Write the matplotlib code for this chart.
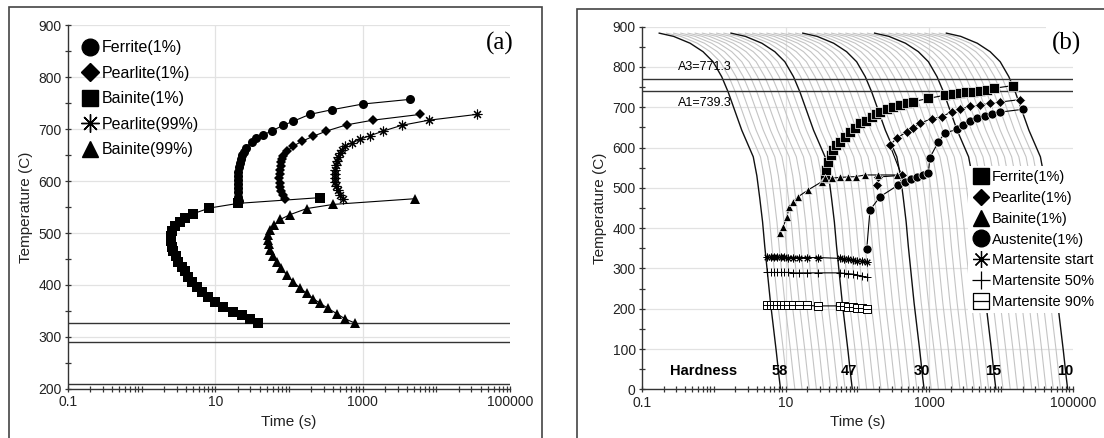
"""
Two-panel CCT style chart: (a) isothermal start/finish curves, (b) continuous
cooling curves with transformation points and hardness labels.
"""

import matplotlib
import matplotlib.pyplot as plt
import numpy as np
from matplotlib.lines import Line2D
from matplotlib.patches import Rectangle
from matplotlib.path import Path
from matplotlib.ticker import (FixedFormatter, FixedLocator, LogLocator,
                               MultipleLocator, NullFormatter)

matplotlib.use("Agg")
plt.rcParams["font.family"] = ["Liberation Sans", "DejaVu Sans"]

TIME_TICKS = [0.1, 10, 1000, 100000]
TIME_TICK_LABELS = ["0.1", "10", "1000", "100000"]
GRID_TIMES = [10, 1000]

# ---------------- panel (a) ----------------
FERRITE_A_T = [562, 570, 578, 586, 594, 602, 610, 618, 626, 634, 642, 650, 656,
               664, 675, 683, 689, 696, 707, 715, 728, 737, 748, 757]
FERRITE_A_t = [21.0, 20.6, 20.4, 20.3, 20.2, 20.2, 20.3, 20.5, 20.8, 21.3, 22.0,
               23.2, 24.3, 26, 31, 36, 45, 58, 83, 115, 190, 380, 1000, 4400]

PEARLITE_A_T = [565, 573, 581, 589, 597, 605, 613, 621, 629, 637, 643, 648, 657,
                667, 676, 686, 696, 708, 717, 728]
PEARLITE_A_t = [88, 83, 79, 76, 74.5, 74, 74.5, 75.5, 77, 79, 81, 84, 93, 114,
                148, 213, 322, 605, 1380, 6000]

BAINITE_A_T = [568, 557, 548, 537, 529, 521, 513, 503, 494, 484, 474, 465, 455,
               445, 435, 426, 416, 406, 397, 387, 377, 368, 358, 348, 342, 334, 327]
BAINITE_A_t = [263, 20.4, 8.3, 5.0, 3.87, 3.31, 2.83, 2.55, 2.47, 2.47, 2.55, 2.68,
               2.89, 3.14, 3.49, 3.87, 4.29, 4.86, 5.57, 6.52, 8.0, 9.9, 12.8,
               17.5, 22.7, 29.5, 38]

PEARLITE99_A_T = [566, 574, 582, 590, 598, 606, 614, 622, 630, 638, 646, 654, 660,
                  667, 673, 680, 687, 696, 707, 717, 728]
PEARLITE99_A_t = [543, 500, 465, 440, 425, 420, 420, 425, 435, 445, 460, 490, 530,
                  573, 708, 916, 1250, 1900, 3370, 7980, 35100]

BAINITE99_A_T = [566, 555, 547, 535, 526, 516, 506, 497, 487, 478, 468, 455, 445,
                 432, 419, 406, 394, 384, 374, 365, 355, 345, 335, 327]
BAINITE99_A_t = [5200, 400, 174, 102, 76, 63, 56, 52, 52, 53, 55, 61, 68, 79, 93,
                 114, 142, 174, 213, 263, 339, 443, 575, 780]

MARTENSITE_LINES_A = [327, 290, 210]

# ---------------- panel (b) ----------------
FERRITE_B_t = [35, 37, 39, 42.5, 46, 51, 57, 67, 79, 93, 109, 132, 160, 180, 207,
               256, 316, 392, 486, 603, 977, 1660, 2170, 2690, 3310, 4110, 5100,
               6300, 7900, 14800]
FERRITE_B_T = [524, 544, 565, 581, 594, 606, 614, 627, 639, 648, 660, 667, 676,
               683, 689, 695, 700, 705, 710, 714, 722, 730, 733, 735, 737, 739,
               741, 744, 747, 754]

PEARLITE_B_t = [186, 195, 414, 284, 352, 486, 601, 745, 1084, 1493, 2056, 2685,
                3700, 5100, 7030, 9680, 18400]
PEARLITE_B_T = [508, 527, 531, 606, 623, 639, 648, 660, 672, 676, 689, 695, 702,
                706, 710, 713, 719]

BAINITE_B_t = [8.36, 9.3, 10.4, 11.3, 12.8, 15.0, 20.7, 31.8, 35.4, 44, 57, 74,
               96, 128, 195, 352]
BAINITE_B_T = [389, 404, 428, 453, 466, 478, 495, 515, 524, 524, 526, 527, 528,
               532, 532, 532]

AUSTENITE_B_t = [135, 150, 207, 371, 460, 558, 676, 820, 973, 1026, 1340, 1660,
                 2415, 2950, 3700, 4630, 5990, 7500, 9680, 20400]
AUSTENITE_B_T = [347, 445, 478, 507, 514, 521, 527, 532, 536, 575, 614, 636, 645,
                 656, 666, 673, 678, 683, 688, 695]

MART_t = [5.46, 6.2, 6.9, 7.66, 8.55, 9.5, 10.9, 12.8, 15.5, 19.7, 28.5, 57.3, 65,
          74.7, 86, 97.8, 115, 135]
MART_START_T = [328, 328, 328, 328, 328, 328, 327, 327, 327, 327, 327, 325, 323,
                323, 321, 319, 318, 317]
MART_50_T = [290, 290, 290, 290, 290, 290, 290, 289, 289, 289, 289, 289, 288, 287,
             286, 284, 281, 278]
MART_90_T = [208, 208, 208, 208, 208, 208, 208, 208, 208, 208, 207, 207, 206, 205,
             204, 203, 202, 200]

# cooling curve shape (decades after curve start, temperature)
COOL_DT = [0.00, 0.20, 0.43, 0.61, 0.75, 0.87, 0.96, 1.05, 1.15, 1.31, 1.36, 1.40,
           1.44, 1.47, 1.51, 1.55, 1.59, 1.63, 1.67, 1.70]
COOL_T = [884, 876, 859, 838, 813, 776, 738, 693, 643, 577, 530, 475, 415, 355,
          285, 215, 155, 95, 30, -15]
BLACK_STARTS = [-0.76, 0.24, 1.24, 2.24, 3.24]
GRAY_STEPS = [0.1, 0.2, 0.3, 0.4, 0.5, 0.6, 0.7, 0.8, 0.9]

A3, A1 = 771.3, 739.3
HARDNESS_LABELS = ["58", "47", "30", "15", "10"]
HARDNESS_t = [8.2, 77, 800, 7800, 78000]

BOXMINUS = Path(
    [(-1, -1), (1, -1), (1, 1), (-1, 1), (-1, -1), (-1, 0), (1, 0)],
    [Path.MOVETO, Path.LINETO, Path.LINETO, Path.LINETO, Path.CLOSEPOLY,
     Path.MOVETO, Path.LINETO],
)
ASTERISK = (8, 2, 0)


def style_axes(ax, ymin, ymax):
    ax.set_xscale("log")
    ax.set_xlim(0.1, 1e5)
    ax.set_ylim(ymin, ymax)
    ax.xaxis.set_major_locator(FixedLocator(TIME_TICKS))
    ax.xaxis.set_major_formatter(FixedFormatter(TIME_TICK_LABELS))
    ax.xaxis.set_minor_locator(LogLocator(base=10, subs=np.arange(1, 10), numticks=30))
    ax.xaxis.set_minor_formatter(NullFormatter())
    ax.yaxis.set_major_locator(MultipleLocator(100))
    ax.yaxis.set_minor_locator(MultipleLocator(50))
    ax.tick_params(which="both", direction="inout", length=5, width=0.9,
                   color="#333333", labelsize=10, labelcolor="#222222", pad=2)
    ax.tick_params(which="minor", length=4)
    ax.grid(True, axis="y", which="major", color="#e2e2e2", lw=0.9)
    for gt in GRID_TIMES:
        ax.axvline(gt, color="#e2e2e2", lw=0.9, zorder=0.5)
    ax.set_axisbelow(True)
    for side in ("top", "right"):
        ax.spines[side].set_visible(False)
    for side in ("left", "bottom"):
        ax.spines[side].set_color("#333333")
        ax.spines[side].set_linewidth(1.0)
    ax.set_xlabel("Time (s)", fontsize=11, color="#222222")
    ax.set_ylabel("Temperature (C)", fontsize=11, color="#222222")


def series(ax, t, T, marker, ms, filled=True, edge="none", mew=0.0, lw=0.8):
    ax.plot(t, T, color="black", lw=lw, marker=marker, markersize=ms,
            markerfacecolor="black" if filled else "white",
            markeredgecolor=edge if filled else "black",
            markeredgewidth=mew, zorder=3)


def main():
    fig = plt.figure(figsize=(11.04, 4.38), dpi=100)
    W, H = 1104, 438

    # panel frames
    fig.patches.append(Rectangle((8.5 / W, -0.1), 533 / W, 1 - 7.5 / H + 0.1,
                                 transform=fig.transFigure, fill=False,
                                 edgecolor="#444444", lw=1.2))
    fig.patches.append(Rectangle((576.5 / W, -0.1), 0.6, 1 - 8.5 / H + 0.1,
                                 transform=fig.transFigure, fill=False,
                                 edgecolor="#444444", lw=1.2))

    # ---- (a)
    ax = fig.add_axes([68 / W, 1 - 389 / H, 442 / W, 364 / H])
    style_axes(ax, 200, 900)
    for T in MARTENSITE_LINES_A:
        ax.axhline(T, color="#333333", lw=1.0, zorder=2)
    series(ax, FERRITE_A_t, FERRITE_A_T, "o", 6.5)
    series(ax, PEARLITE_A_t, PEARLITE_A_T, "D", 5)
    series(ax, BAINITE_A_t, BAINITE_A_T, "s", 6.5)
    ax.plot(PEARLITE99_A_t, PEARLITE99_A_T, color="black", lw=0.8, marker=ASTERISK,
            markersize=7, markeredgewidth=0.8, zorder=3)
    series(ax, BAINITE99_A_t, BAINITE99_A_T, "^", 6.5)

    handles_a = [
        Line2D([], [], ls="none", marker="o", color="black", markersize=12),
        Line2D([], [], ls="none", marker="D", color="black", markersize=9),
        Line2D([], [], ls="none", marker="s", color="black", markersize=12),
        Line2D([], [], ls="none", marker=ASTERISK, color="black", markersize=13,
               markeredgewidth=1.0),
        Line2D([], [], ls="none", marker="^", color="black", markersize=12),
    ]
    labels_a = ["Ferrite(1%)", "Pearlite(1%)", "Bainite(1%)", "Pearlite(99%)",
                "Bainite(99%)"]
    ax.legend(handles_a, labels_a, loc="upper left", bbox_to_anchor=(0.028, 0.958),
              frameon=False, fontsize=11.5, handlelength=1.2, handletextpad=0.15,
              labelspacing=0.66, borderpad=0, borderaxespad=0)
    ax.text(72000, 865, "(a)", family="Liberation Serif", fontsize=18,
            ha="center", va="center", zorder=6,
            bbox=dict(facecolor="white", edgecolor="none", pad=4))

    # ---- (b)
    bx = fig.add_axes([642 / W, 1 - 389.3 / H, 430.7 / W, 362.6 / H])
    style_axes(bx, 0, 900)
    for start in BLACK_STARTS[:-1]:
        for step in GRAY_STEPS:
            bx.plot(10 ** (start + step + np.array(COOL_DT)), COOL_T,
                    color="#c4c4c4", lw=0.8, zorder=1)
    for start in BLACK_STARTS:
        bx.plot(10 ** (start + np.array(COOL_DT)), COOL_T, color="#111111",
                lw=1.0, zorder=1.5)
    bx.axhline(A3, color="#333333", lw=1.0, zorder=2)
    bx.axhline(A1, color="#333333", lw=1.0, zorder=2)
    bx.text(0.32, 801, f"A3={A3}", fontsize=9, ha="left", va="center", zorder=2)
    bx.text(0.32, 710, f"A1={A1}", fontsize=9, ha="left", va="center", zorder=2)

    series(bx, FERRITE_B_t, FERRITE_B_T, "s", 6.5, edge="white", mew=0.5)
    series(bx, PEARLITE_B_t, PEARLITE_B_T, "D", 5, edge="white", mew=0.5)
    series(bx, BAINITE_B_t, BAINITE_B_T, "^", 5.5, edge="white", mew=0.5)
    series(bx, AUSTENITE_B_t, AUSTENITE_B_T, "o", 6.5, edge="white", mew=0.5)
    bx.plot(MART_t, MART_START_T, color="black", lw=0.8, marker=ASTERISK,
            markersize=5.5, markeredgewidth=0.7, zorder=3)
    bx.plot(MART_t, MART_50_T, color="black", lw=0.8, marker="+",
            markersize=5.5, markeredgewidth=0.7, zorder=3)
    bx.plot(MART_t, MART_90_T, color="black", lw=0.8, marker=BOXMINUS,
            markersize=5.5, markerfacecolor="white", markeredgecolor="black",
            markeredgewidth=0.7, zorder=3)

    bx.text(0.73, 45, "Hardness", fontsize=10.5, fontweight="bold",
            ha="center", va="center", zorder=4)
    for lab, t in zip(HARDNESS_LABELS, HARDNESS_t):
        bx.text(t, 45, lab, fontsize=10.5, fontweight="bold", ha="center",
                va="center", zorder=4)

    handles_b = [
        Line2D([], [], ls="none", marker="s", color="black", markersize=12),
        Line2D([], [], ls="none", marker="D", color="black", markersize=8.5),
        Line2D([], [], ls="none", marker="^", color="black", markersize=11),
        Line2D([], [], ls="none", marker="o", color="black", markersize=12),
        Line2D([], [], ls="none", marker=ASTERISK, color="black", markersize=12,
               markeredgewidth=0.9),
        Line2D([], [], ls="none", marker="+", color="black", markersize=13,
               markeredgewidth=0.9),
        Line2D([], [], ls="none", marker=BOXMINUS, color="black", markersize=11,
               markerfacecolor="white", markeredgewidth=0.9),
    ]
    labels_b = ["Ferrite(1%)", "Pearlite(1%)", "Bainite(1%)", "Austenite(1%)",
                "Martensite start", "Martensite 50%", "Martensite 90%"]
    leg = bx.legend(handles_b, labels_b, loc="upper left",
                    bbox_to_anchor=(0.756, 0.617), frameon=True, fontsize=10.5,
                    handlelength=1.2, handletextpad=0.15, labelspacing=0.47,
                    borderpad=0.3, borderaxespad=0, framealpha=1.0,
                    fancybox=False)
    leg.get_frame().set_edgecolor("none")
    leg.get_frame().set_facecolor("white")
    leg.set_zorder(5)
    bx.text(82000, 858, "(b)", family="Liberation Serif", fontsize=18,
            ha="center", va="center", zorder=6,
            bbox=dict(facecolor="white", edgecolor="none", pad=4))

    fig.savefig("out.png", dpi=100, facecolor="white")


if __name__ == "__main__":
    main()
